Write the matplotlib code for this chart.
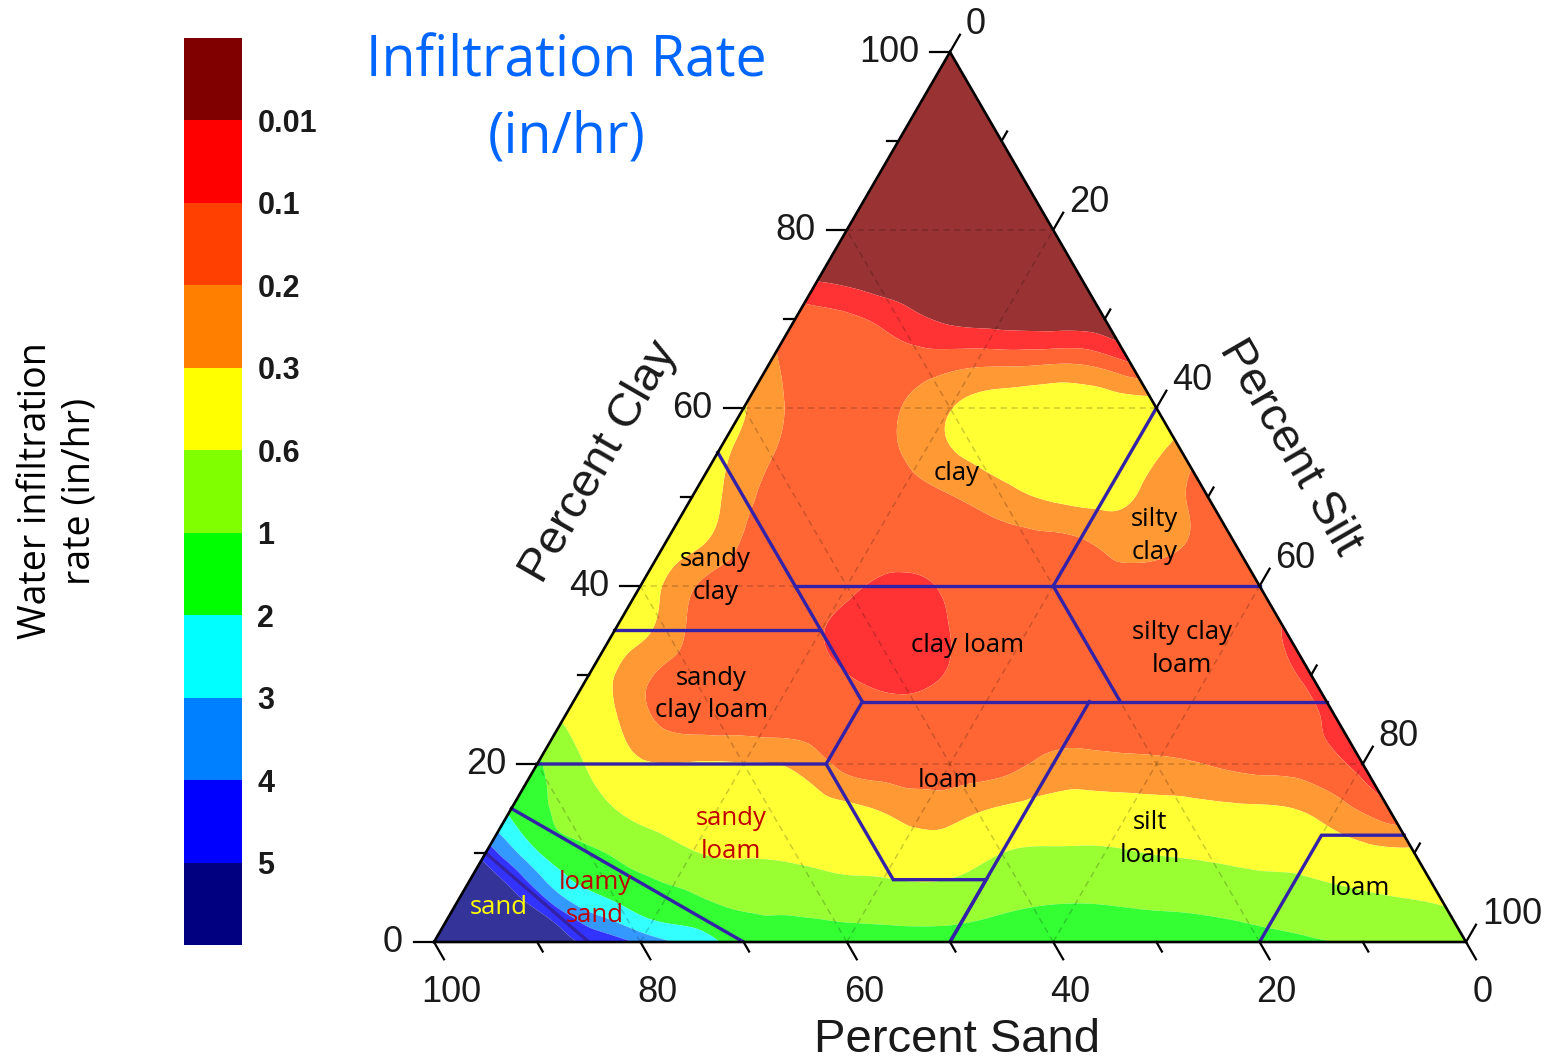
import numpy as np
import matplotlib
matplotlib.use("Agg")
import matplotlib.pyplot as plt
import matplotlib.tri as mtri
from matplotlib.colors import ListedColormap, BoundaryNorm, to_rgb
from matplotlib.cm import ScalarMappable

# ---------------------------------------------------------------- data
# Colour classes of the infiltration rate (in/hr); class edges and colours.
rate_breaks = [0.01, 0.1, 0.2, 0.3, 0.6, 1, 2, 3, 4, 5]
rate_tick_labels = ["0.01", "0.1", "0.2", "0.3", "0.6", "1", "2", "3", "4", "5"]
rate_bounds = [0.0] + rate_breaks + [7.0]
class_colors = ["#800000", "#ff0000", "#ff4000", "#ff8000", "#ffff00", "#80ff00",
                "#00ff00", "#00ffff", "#0080ff", "#0000ff", "#000080"]

# Infiltration rate (in/hr) sampled every 5 % clay; each row runs over
# silt = 0, 5, 10, ... up to 100 - clay (sand makes up the rest).
clay_levels = list(range(0, 101, 5))
rates_c00 = [6.4, 6.2, 5.8, 4.83, 3.78, 2.6, 1.55, 1.45, 1.4, 1.35, 1.35, 1.45, 1.55,
             1.5, 1.4, 1.3, 1.2, 1.08, 0.96, 0.88, 0.8]
rates_c05 = [6.0, 5.4, 3.05, 1.85, 1.2, 0.93, 0.88, 0.82, 0.77, 0.74, 0.82, 0.93,
             0.96, 0.93, 0.9, 0.85, 0.78, 0.68, 0.61, 0.57]
rates_c10 = [4.6, 2.1, 1.15, 0.84, 0.63, 0.57, 0.55, 0.51, 0.46, 0.45, 0.598, 0.64,
             0.64, 0.59, 0.56, 0.52, 0.49, 0.39, 0.36]
rates_c15 = [1.8, 0.92, 0.6, 0.49, 0.45, 0.43, 0.4, 0.3, 0.25, 0.285, 0.375, 0.42,
             0.405, 0.385, 0.345, 0.315, 0.237, 0.13]
rates_c20 = [1.15, 0.57, 0.33, 0.32, 0.315, 0.28, 0.17, 0.15, 0.15, 0.165, 0.23,
             0.23, 0.22, 0.197, 0.17, 0.15, 0.073]
rates_c25 = [0.59, 0.33, 0.175, 0.15, 0.145, 0.145, 0.14, 0.14, 0.145, 0.15, 0.155,
             0.155, 0.15, 0.145, 0.145, 0.073]
rates_c30 = [0.525, 0.23, 0.15, 0.15, 0.14, 0.102, 0.064, 0.11, 0.145, 0.15, 0.15,
             0.15, 0.145, 0.14, 0.0775]
rates_c35 = [0.525, 0.26, 0.13, 0.15, 0.105, 0.055, 0.06, 0.14, 0.15, 0.15, 0.15,
             0.15, 0.14, 0.095]
rates_c40 = [0.525, 0.21, 0.14, 0.15, 0.12, 0.082, 0.115, 0.15, 0.16, 0.17, 0.16,
             0.15, 0.13]
rates_c45 = [0.525, 0.27, 0.13, 0.15, 0.14, 0.14, 0.15, 0.17, 0.19, 0.24, 0.205, 0.15]
rates_c50 = [0.525, 0.235, 0.14, 0.15, 0.16, 0.195, 0.26, 0.345, 0.39, 0.26, 0.16]
rates_c55 = [0.39, 0.21, 0.15, 0.16, 0.245, 0.375, 0.48, 0.51, 0.465, 0.25]
rates_c60 = [0.33, 0.18, 0.15, 0.195, 0.295, 0.45, 0.51, 0.48, 0.42]
rates_c65 = [0.22, 0.15, 0.145, 0.15, 0.18, 0.185, 0.195, 0.105]
rates_c70 = [0.15, 0.12, 0.055, 0.008, 0.006, 0.005, 0.003]
rates_c75 = [0.007, 0.004, 0.003, 0.003, 0.003, 0.003]
rates_c80 = [0.003, 0.003, 0.003, 0.003, 0.003]
rates_c85 = [0.003, 0.003, 0.003, 0.003]
rates_c90 = [0.003, 0.003, 0.003]
rates_c95 = [0.003, 0.003]
rates_c100 = [0.003]
rate_rows = [rates_c00, rates_c05, rates_c10, rates_c15, rates_c20, rates_c25,
             rates_c30, rates_c35, rates_c40, rates_c45, rates_c50, rates_c55,
             rates_c60, rates_c65, rates_c70, rates_c75, rates_c80, rates_c85,
             rates_c90, rates_c95, rates_c100]

# Extra samples in the sandy corner, where the classes are packed tightly
# (clay 2.5 % and 7.5 %, silt = 0, 5, 10, ...).
corner_clay_levels = [2.5, 7.5]
rates_c02_5 = [6.3, 5.8, 5.04, 3.2, 1.98, 1.6]
rates_c07_5 = [5.8, 3.85, 1.8, 1.15, 0.91]
corner_rows = [rates_c02_5, rates_c07_5]

# USDA texture-class boundaries as (clay, silt) vertices
texture_lines = [
    [(0, 15), (10, 0)],
    [(0, 30), (15, 0)],
    [(20, 0), (20, 28), (7, 41), (7, 50), (0, 50)],
    [(20, 28), (27, 28)],
    [(35, 0), (35, 20), (27, 28)],
    [(55, 0), (35, 20)],
    [(40, 15), (40, 60)],
    [(27, 28), (27, 73)],
    [(40, 40), (27, 53)],
    [(27, 50), (0, 50)],
    [(40, 40), (60, 40)],
    [(0, 80), (12, 80), (12, 88)],
]

# Class names: text, (clay, silt) anchor, colour
class_names = ["clay", "silty\nclay", "sandy\nclay", "clay loam", "silty clay\nloam",
               "sandy\nclay loam", "loam", "sandy\nloam", "silt\nloam", "loam",
               "loamy\nsand", "sand"]
class_anchor = [(52.6, 24.3), (45.6, 47.0), (41.1, 6.7), (33.3, 35.1), (32.9, 56.0),
                (27.8, 13.0), (18.2, 40.7), (12.0, 22.8), (11.6, 63.6), (6.0, 86.7),
                (4.8, 13.2), (3.9, 4.3)]
class_text_color = ["black", "black", "black", "black", "black", "black", "black",
                    "#c00000", "black", "black", "#c00000", "#ffff00"]

# ---------------------------------------------------------------- helpers
SQ = np.sqrt(3) / 2.0


def to_xy(clay, silt):
    clay = np.asarray(clay, float)
    silt = np.asarray(silt, float)
    return silt + clay / 2.0, clay * SQ


def blend(c, a=0.8):
    r, g, b = to_rgb(c)
    return (a * r + 1 - a, a * g + 1 - a, a * b + 1 - a)


W, H = 1562, 1062
fig = plt.figure(figsize=(W / 100, H / 100), dpi=100)
fig.patch.set_facecolor("white")

ax = fig.add_axes([434 / W, 120 / H, 1032 / W, 890 / H])
ax.set_xlim(0, 100)
ax.set_ylim(0, 100 * SQ)
ax.axis("off")
PX = 100 / 1032.0          # data units per pixel (horizontal)
PY = 100 * SQ / 890.0      # data units per pixel (vertical)

# ---------------------------------------------------------------- contour field
clay_pts, silt_pts, rate_pts = [], [], []
for c, row in list(zip(clay_levels, rate_rows)) + list(zip(corner_clay_levels, corner_rows)):
    for i, r in enumerate(row):
        clay_pts.append(c)
        silt_pts.append(5 * i)
        rate_pts.append(r)
xs, ys = to_xy(clay_pts, silt_pts)
# position of each rate inside the colour classes (class k spans [k, k+1))
band = np.interp(np.array(rate_pts), rate_bounds, np.arange(len(rate_bounds)))

tri = mtri.Triangulation(xs, ys)
interp = mtri.CubicTriInterpolator(tri, band, kind="min_E")
refiner = mtri.UniformTriRefiner(tri)
tri_f, band_f = refiner.refine_field(band, triinterpolator=interp, subdiv=4)
band_f = np.clip(band_f, 0.001, len(class_colors) - 0.001)

fill_colors = [blend(c) for c in class_colors]
ax.tricontourf(tri_f, band_f, levels=np.arange(len(class_colors) + 1),
               colors=fill_colors, antialiased=True, zorder=1)

# ---------------------------------------------------------------- dashed grid
for v in (20, 40, 60, 80):
    for (c0, s0), (c1, s1) in [((v, 0), (v, 100 - v)),
                               ((0, v), (100 - v, v)),
                               ((0, 100 - v), (100 - v, 0))]:
        gx, gy = to_xy([c0, c1], [s0, s1])
        ax.plot(gx, gy, color="black", alpha=0.2, lw=1.1, dashes=(4, 3), zorder=2)

# ---------------------------------------------------------------- texture classes
for line in texture_lines:
    cc, ss = zip(*line)
    lx, ly = to_xy(cc, ss)
    ax.plot(lx, ly, color="#3322a8", lw=2.4, solid_joinstyle="miter", zorder=3)

for name, (c, s), col in zip(class_names, class_anchor, class_text_color):
    tx, ty = to_xy(c, s)
    ax.text(tx, ty, name, ha="center", va="center", ma="center", fontsize=18.5,
            family="Open Sans", color=col, linespacing=1.4, zorder=5)

# ---------------------------------------------------------------- triangle frame
fx, fy = to_xy([0, 0, 100, 0], [0, 100, 0, 0])
ax.plot(fx, fy, color="black", lw=1.9, zorder=4, clip_on=False,
        solid_joinstyle="miter")

tick_font = dict(family="Liberation Sans", fontsize=26, color="#1a1a1a")
for v in range(0, 101, 10):
    major = v % 20 == 0
    L = 20 if major else 11
    # clay axis (left edge), ticks point left
    x0, y0 = to_xy(v, 0)
    ax.plot([x0, x0 - L * PX], [y0, y0], color="black", lw=1.6, clip_on=False, zorder=4)
    if major:
        ax.text(x0 - 31 * PX, y0, str(v), ha="right", va="center", **tick_font)
    # silt axis (right edge), ticks point up-right
    x0, y0 = to_xy(100 - v, v)
    ax.plot([x0, x0 + 0.5 * L * PX], [y0, y0 + SQ * L * PY], color="black", lw=1.6,
            clip_on=False, zorder=4)
    if major:
        ax.text(x0 + 16 * PX, y0 + 28 * PY, str(v), ha="left", va="center", **tick_font)
    # sand axis (bottom edge), ticks point down-right
    x0, y0 = to_xy(0, 100 - v)
    ax.plot([x0, x0 + 0.5 * L * PX], [y0, y0 - SQ * L * PY], color="black", lw=1.6,
            clip_on=False, zorder=4)
    if major:
        ax.text(x0 + 17 * PX, y0 - 50 * PY, str(v), ha="center", va="center", **tick_font)

title_font = dict(family="Liberation Sans", fontsize=34, color="#1a1a1a")
ax.text((600 - 434) * PX, (942 - 462) * PY, "Percent Clay", rotation=60,
        ha="center", va="center", rotation_mode="anchor", **title_font)
ax.text((1290 - 434) * PX, (942 - 447) * PY, "Percent Silt", rotation=-60,
        ha="center", va="center", rotation_mode="anchor", **title_font)
ax.text((957 - 434) * PX, (942 - 1040) * PY, "Percent Sand",
        ha="center", va="center", **title_font)

# ---------------------------------------------------------------- colour bar
cax = fig.add_axes([184 / W, (H - 945) / H, 58 / W, 907 / H])
sm = ScalarMappable(norm=BoundaryNorm(rate_bounds, len(class_colors)),
                    cmap=ListedColormap(class_colors))
cb = fig.colorbar(sm, cax=cax, boundaries=rate_bounds, spacing="uniform",
                  ticks=rate_breaks)
cb.ax.invert_yaxis()
cb.outline.set_visible(False)
cb.ax.tick_params(length=0, pad=11)
cb.ax.set_yticks(rate_breaks)
cb.ax.set_yticklabels(rate_tick_labels, fontsize=22, fontweight="bold",
                      family="Liberation Sans", color="#1a1a1a")
cb.ax.minorticks_off()

fig.text(58 / W, 1 - 491 / H, "Water infiltration\nrate (in/hr)", rotation=90,
         ha="center", va="center", ma="center", fontsize=27, family="Open Sans",
         color="black")

fig.text(566 / W, 1 - 62 / H, "Infiltration Rate", ha="center", va="center",
         fontsize=40, family="Open Sans", color="#0066ff")
fig.text(567 / W, 1 - 138 / H, "(in/hr)", ha="center", va="center",
         fontsize=40, family="Open Sans", color="#0066ff")

fig.savefig("out.png", dpi=100, facecolor="white")
